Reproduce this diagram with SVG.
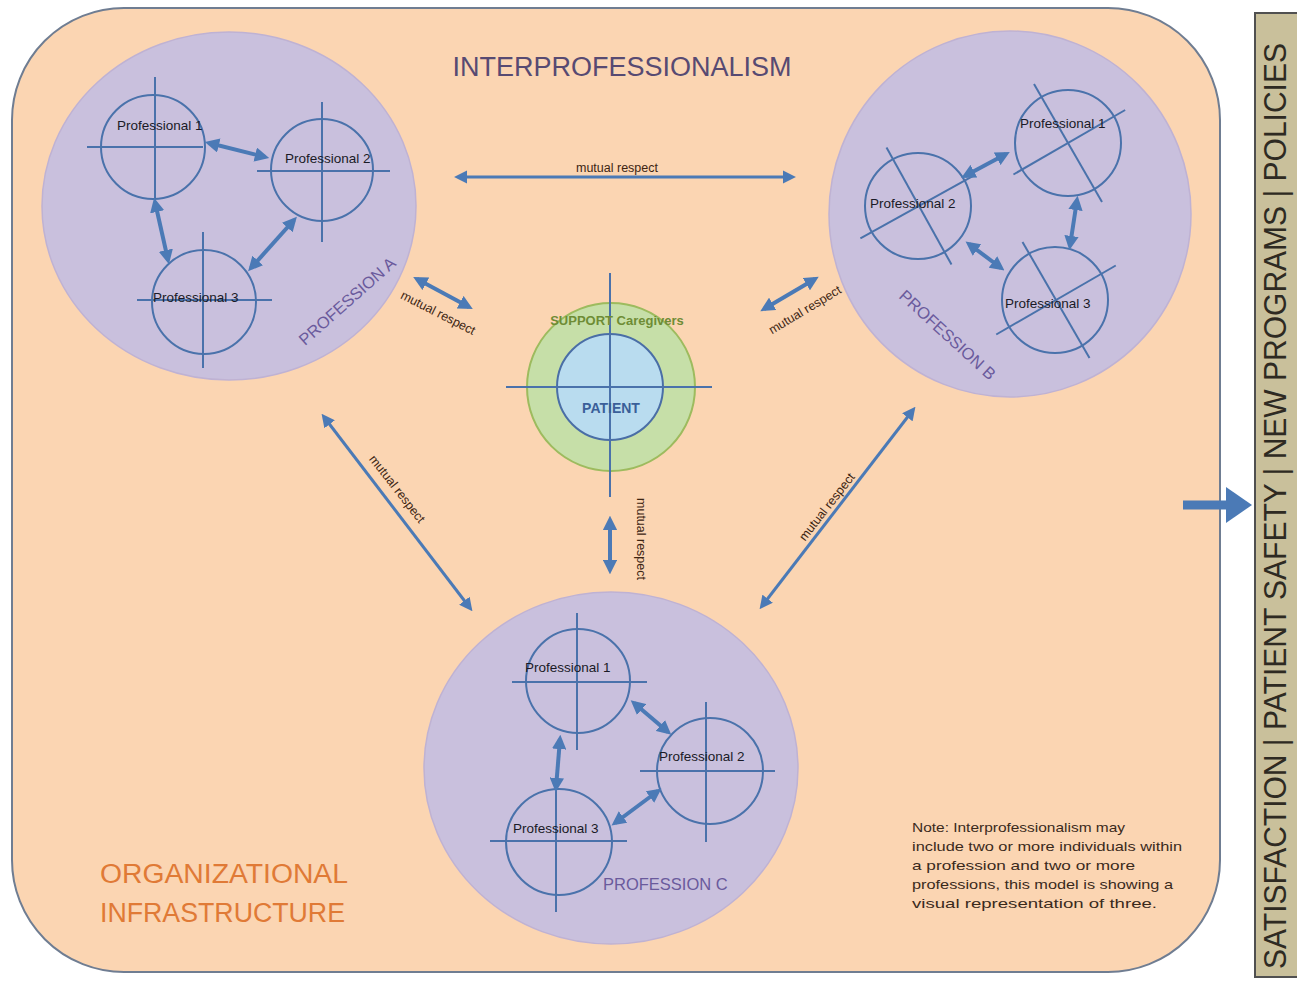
<svg xmlns="http://www.w3.org/2000/svg" width="1297" height="982" viewBox="0 0 1297 982">
  <defs>
    <marker id="ah" viewBox="0 0 10 10" refX="7" refY="5" markerWidth="3.6" markerHeight="3.6" orient="auto-start-reverse" markerUnits="strokeWidth">
      <path d="M0,0 L10,5 L0,10 z" fill="#4b7ab6"/>
    </marker>
    <marker id="ahs" viewBox="0 0 10 10" refX="7" refY="5" markerWidth="4.4" markerHeight="4.4" orient="auto-start-reverse" markerUnits="strokeWidth">
      <path d="M0,0 L10,5 L0,10 z" fill="#4b7ab6"/>
    </marker>
    <style>
      .frame { fill: #fbd5b2; stroke: #6f7d92; stroke-width: 2; }
      .prof { fill: #c9c0dd; stroke: #bfb2d3; stroke-width: 1.5; }
      .pc { fill: none; stroke: #4a72ab; stroke-width: 2; }
      .px { stroke: #4a72ab; stroke-width: 2; }
      .pl { font-family: "Liberation Sans", Arial, sans-serif; font-size: 13.5px; fill: #1a1a26; }
      .link { stroke: #4b7ab6; stroke-width: 4; fill: none; marker-start: url(#ah); marker-end: url(#ah); }
      .long { stroke: #4b7ab6; stroke-width: 3; fill: none; marker-start: url(#ahs); marker-end: url(#ahs); }
      .mr { font-family: "Liberation Sans", Arial, sans-serif; font-size: 12.5px; fill: #3d2512; text-anchor: middle; }
      .pname { font-family: "Liberation Sans", Arial, sans-serif; font-size: 16.5px; fill: #6a5a9c; }
      .note { font-family: "Liberation Sans", Arial, sans-serif; font-size: 13.5px; fill: #3a2a1c; }
      .big { font-family: "Liberation Sans", Arial, sans-serif; font-size: 27px; }
    </style>
  </defs>

  <rect width="1297" height="982" fill="#ffffff"/>

  <!-- organizational infrastructure frame -->
  <g id="frame">
    <rect class="frame" x="12" y="8" width="1208" height="964" rx="112" ry="112"/>
    <text class="big" x="622" y="76" text-anchor="middle" fill="#574a72">INTERPROFESSIONALISM</text>
    <text class="big" x="100" y="883" fill="#e07a36" textLength="248" lengthAdjust="spacingAndGlyphs">ORGANIZATIONAL</text>
    <text class="big" x="100" y="922" fill="#e07a36" textLength="245" lengthAdjust="spacingAndGlyphs">INFRASTRUCTURE</text>
  </g>

  <!-- outcomes bar -->
  <g id="outcomes">
    <rect x="1255" y="13" width="50" height="964" fill="#c9c09b" stroke="#505050" stroke-width="2"/>
    <text transform="translate(1286,506) rotate(-90)" x="0" y="0" text-anchor="middle" font-family="'Liberation Sans', Arial, sans-serif" font-size="31" fill="#2e2a22" textLength="926" lengthAdjust="spacingAndGlyphs">SATISFACTION | PATIENT SAFETY | NEW PROGRAMS | POLICIES</text>
  </g>

  <!-- profession A -->
  <g id="profession-a">
    <ellipse class="prof" cx="229" cy="206" rx="187" ry="174"/>
    <g id="a-p1">
      <circle class="pc" cx="153" cy="147" r="52"/>
      <line class="px" x1="155" y1="77" x2="155" y2="208"/>
      <line class="px" x1="87" y1="147" x2="203" y2="147"/>
      <text class="pl" x="117" y="130">Professional 1</text>
    </g>
    <g id="a-p2">
      <circle class="pc" cx="322" cy="170" r="51"/>
      <line class="px" x1="322" y1="102" x2="322" y2="242"/>
      <line class="px" x1="257" y1="171" x2="390" y2="171"/>
      <text class="pl" x="285" y="163">Professional 2</text>
    </g>
    <g id="a-p3">
      <circle class="pc" cx="204" cy="302" r="52"/>
      <line class="px" x1="203" y1="232" x2="203" y2="368"/>
      <line class="px" x1="137" y1="300" x2="272" y2="300"/>
      <text class="pl" x="153" y="302">Professional 3</text>
    </g>
    <text class="pname" transform="translate(347,301) rotate(-41.5)" x="0" y="6" text-anchor="middle">PROFESSION A</text>
  </g>

  <!-- profession B -->
  <g id="profession-b">
    <ellipse class="prof" cx="1010" cy="214" rx="181" ry="183"/>
    <g id="b-p1">
      <circle class="pc" cx="1068" cy="143" r="53"/>
      <g transform="rotate(-30,1068,143)">
        <line class="px" x1="1068" y1="75" x2="1068" y2="211"/>
        <line class="px" x1="1005" y1="143" x2="1134" y2="143"/>
      </g>
      <text class="pl" x="1020" y="128">Professional 1</text>
    </g>
    <g id="b-p2">
      <circle class="pc" cx="918" cy="206" r="53"/>
      <g transform="rotate(-29,919,206)">
        <line class="px" x1="919" y1="139" x2="919" y2="273"/>
        <line class="px" x1="852" y1="206" x2="982" y2="206"/>
      </g>
      <text class="pl" x="870" y="208">Professional 2</text>
    </g>
    <g id="b-p3">
      <circle class="pc" cx="1055" cy="300" r="53"/>
      <g transform="rotate(-30,1056,300)">
        <line class="px" x1="1056" y1="233" x2="1056" y2="367"/>
        <line class="px" x1="987" y1="300" x2="1125" y2="300"/>
      </g>
      <text class="pl" x="1005" y="308">Professional 3</text>
    </g>
    <text class="pname" transform="translate(941,342) rotate(42.5)" x="0" y="-4" text-anchor="middle">PROFESSION B</text>
  </g>

  <!-- profession C -->
  <g id="profession-c">
    <ellipse class="prof" cx="611" cy="768" rx="187" ry="176"/>
    <g id="c-p1">
      <circle class="pc" cx="578" cy="681" r="52"/>
      <line class="px" x1="577" y1="613" x2="577" y2="750"/>
      <line class="px" x1="512" y1="682" x2="647" y2="682"/>
      <text class="pl" x="525" y="672">Professional 1</text>
    </g>
    <g id="c-p2">
      <circle class="pc" cx="710" cy="771" r="53"/>
      <line class="px" x1="706" y1="702" x2="706" y2="842"/>
      <line class="px" x1="640" y1="771" x2="775" y2="771"/>
      <text class="pl" x="659" y="761">Professional 2</text>
    </g>
    <g id="c-p3">
      <circle class="pc" cx="559" cy="842" r="53"/>
      <line class="px" x1="556" y1="778" x2="556" y2="912"/>
      <line class="px" x1="490" y1="841" x2="627" y2="841"/>
      <text class="pl" x="513" y="833">Professional 3</text>
    </g>
    <text class="pname" x="603" y="890" font-size="17">PROFESSION C</text>
  </g>

  <!-- patient and support caregivers -->
  <g id="patient">
    <circle cx="611" cy="387" r="84" fill="#c6dfa8" stroke="#9dbb5e" stroke-width="2"/>
    <circle cx="610" cy="387" r="53" fill="#b9dcef" stroke="#4a6ea6" stroke-width="2"/>
    <line class="px" x1="610" y1="273" x2="610" y2="497" stroke="#4a6ea6"/>
    <line class="px" x1="506" y1="387" x2="712" y2="387" stroke="#4a6ea6"/>
    <text x="617" y="325" text-anchor="middle" font-family="'Liberation Sans', Arial, sans-serif" font-size="13" font-weight="bold" fill="#6e8c35">SUPPORT Caregivers</text>
    <text x="611" y="413" text-anchor="middle" font-family="'Liberation Sans', Arial, sans-serif" font-size="14" font-weight="bold" fill="#3a5f99">PATIENT</text>
  </g>

  <!-- connectors -->
  <g id="connectors">
    <!-- within profession A -->
    <line class="link" x1="209" y1="143" x2="265" y2="157"/>
    <line class="link" x1="155" y1="202" x2="168" y2="260"/>
    <line class="link" x1="294" y1="220" x2="251" y2="268"/>
    <!-- within profession B -->
    <line class="link" x1="965" y1="176" x2="1006" y2="154"/>
    <line class="link" x1="969" y1="244" x2="1001" y2="268"/>
    <line class="link" x1="1077" y1="200" x2="1070" y2="246"/>
    <!-- within profession C -->
    <line class="link" x1="634" y1="703" x2="668" y2="732"/>
    <line class="link" x1="560" y1="739" x2="556" y2="788"/>
    <line class="link" x1="615" y1="823" x2="658" y2="791"/>
    <!-- between professions and patient -->
    <line class="link" x1="417" y1="279" x2="469" y2="307"/>
    <line class="link" x1="764" y1="309" x2="815" y2="279"/>
    <line class="link" x1="610" y1="520" x2="610" y2="570"/>
    <line class="long" x1="458" y1="177" x2="792" y2="177"/>
    <line class="long" x1="324" y1="417" x2="470" y2="608"/>
    <line class="long" x1="913" y1="410" x2="762" y2="606"/>
    <!-- outcome arrow -->
    <line x1="1183" y1="505" x2="1230" y2="505" stroke="#4b7ab6" stroke-width="9"/>
    <path d="M1226,487 L1252,505 L1226,523 z" fill="#4b7ab6"/>

    <text class="mr" x="617" y="172">mutual respect</text>
    <text class="mr" transform="translate(438,313) rotate(27)" x="0" y="4">mutual respect</text>
    <text class="mr" transform="translate(805,310) rotate(-31)" x="0" y="4">mutual respect</text>
    <text class="mr" transform="translate(397,489) rotate(52)" x="0" y="4">mutual respect</text>
    <text class="mr" transform="translate(827,507) rotate(-52)" x="0" y="4">mutual respect</text>
    <text class="mr" transform="translate(633,539) rotate(90)" x="0" y="-4">mutual respect</text>
  </g>

  <!-- note -->
  <g id="note">
    <text class="note" x="912" y="832" textLength="213" lengthAdjust="spacingAndGlyphs">Note: Interprofessionalism may</text>
    <text class="note" x="912" y="851" textLength="270" lengthAdjust="spacingAndGlyphs">include two or more individuals within</text>
    <text class="note" x="912" y="870" textLength="223" lengthAdjust="spacingAndGlyphs">a profession and two or more</text>
    <text class="note" x="912" y="889" textLength="261" lengthAdjust="spacingAndGlyphs">professions, this model is showing a</text>
    <text class="note" x="912" y="908" textLength="245" lengthAdjust="spacingAndGlyphs">visual representation of three.</text>
  </g>
</svg>
